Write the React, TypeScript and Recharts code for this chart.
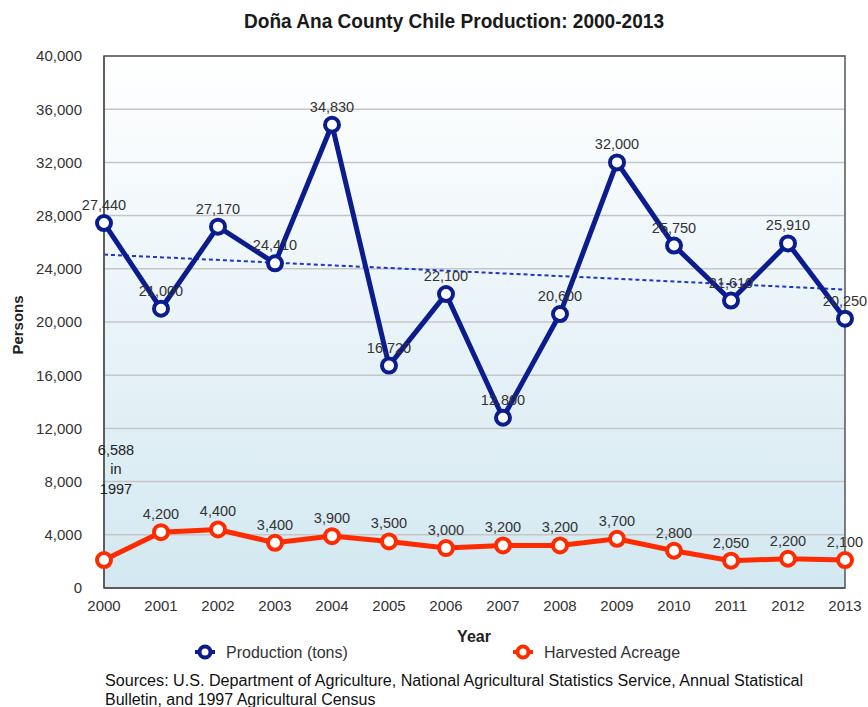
import React from "react";
import {
  LineChart,
  Line,
  XAxis,
  YAxis,
  CartesianGrid,
  LabelList,
  ReferenceArea,
} from "recharts";

const years = [2000, 2001, 2002, 2003, 2004, 2005, 2006, 2007, 2008, 2009, 2010, 2011, 2012, 2013];
const production = [27440, 21000, 27170, 24410, 34830, 16720, 22100, 12800, 20600, 32000, 25750, 21610, 25910, 20250];
const harvested = [2100, 4200, 4400, 3400, 3900, 3500, 3000, 3200, 3200, 3700, 2800, 2050, 2200, 2100];
// dotted trend line, read at its two ends
const trendEnds = [25070, 22440];
const yTicks = [0, 4000, 8000, 12000, 16000, 20000, 24000, 28000, 32000, 36000, 40000];

const BLUE = "#0b1c8f";
const RED = "#ff2b00";
const FONT = "'Liberation Sans', Arial, Helvetica, sans-serif";

const data = years.map((year, i) => ({
  year,
  production: production[i],
  harvested: harvested[i],
  // 2000 acreage has no label in the original (the 1997 note is shown instead)
  harvestedLabel: i === 0 ? null : harvested[i],
  trend: i === 0 ? trendEnds[0] : i === years.length - 1 ? trendEnds[1] : null,
}));

const fmt = (v: any) => Number(v).toLocaleString("en-US");

const LegendMark = ({ x, y, color }: { x: number; y: number; color: string }) => (
  <g>
    <line x1={x - 10} y1={y} x2={x + 10} y2={y} stroke={color} strokeWidth={4} />
    <circle cx={x} cy={y} r={5.5} fill="#fff" stroke={color} strokeWidth={4} />
  </g>
);

export default function App() {
  return (
    <div
      style={{
        position: "absolute",
        left: 0,
        top: 0,
        width: 868,
        height: 707,
        background: "#fff",
        fontFamily: FONT,
      }}
    >
      <LineChart
        width={868}
        height={707}
        data={data}
        margin={{ top: 56, right: 23, bottom: 0, left: 0 }}
      >
        <defs>
          <linearGradient id="plotBg" x1="0" y1="0" x2="0" y2="1">
            <stop offset="0%" stopColor="#ffffff" />
            <stop offset="100%" stopColor="#d3e8f1" />
          </linearGradient>
        </defs>
        <CartesianGrid
          vertical={false}
          stroke="#c6c6c6"
          strokeWidth={1.5}
          fill="url(#plotBg)"
          fillOpacity={1}
        />
        <XAxis
          dataKey="year"
          type="number"
          domain={[2000, 2013]}
          ticks={years}
          height={119}
          tickLine={false}
          tickSize={0}
          tickMargin={12}
          axisLine={{ stroke: "#555", strokeWidth: 1.5 }}
          tick={{ fill: "#333", fontSize: 15 }}
        />
        <YAxis
          type="number"
          domain={[0, 40000]}
          ticks={yTicks}
          width={104}
          tickLine={false}
          tickSize={0}
          tickMargin={22}
          axisLine={{ stroke: "#555", strokeWidth: 1.5 }}
          tick={{ fill: "#333", fontSize: 15 }}
          tickFormatter={fmt}
        />
        <ReferenceArea
          x1={2000}
          x2={2013}
          y1={0}
          y2={40000}
          fill="none"
          stroke="#555"
          strokeWidth={1.5}
        />
        <Line
          dataKey="trend"
          connectNulls
          stroke="#1e36c8"
          strokeWidth={2}
          strokeDasharray="4 3"
          dot={false}
          activeDot={false}
          isAnimationActive={false}
        />
        <Line
          dataKey="production"
          stroke={BLUE}
          strokeWidth={5}
          dot={{ r: 7, fill: "#fff", stroke: BLUE, strokeWidth: 4 }}
          activeDot={false}
          isAnimationActive={false}
        >
          <LabelList
            dataKey="production"
            position="top"
            offset={13}
            formatter={fmt}
            style={{ fill: "#333", fontSize: 14.5 }}
          />
        </Line>
        <Line
          dataKey="harvested"
          stroke={RED}
          strokeWidth={5}
          dot={{ r: 7, fill: "#fff", stroke: RED, strokeWidth: 4 }}
          activeDot={false}
          isAnimationActive={false}
        >
          <LabelList
            dataKey="harvestedLabel"
            position="top"
            offset={13}
            formatter={fmt}
            style={{ fill: "#333", fontSize: 14.5 }}
          />
        </Line>
      </LineChart>

      <svg
        width={868}
        height={707}
        style={{ position: "absolute", left: 0, top: 0, pointerEvents: "none" }}
        fontFamily={FONT}
      >
        <text x={454} y={28} textAnchor="middle" fontSize={21} fontWeight="bold" fill="#1a1a1a" textLength={420} lengthAdjust="spacingAndGlyphs">
          Doña Ana County Chile Production: 2000-2013
        </text>
        <text
          x={0}
          y={0}
          transform="translate(23,325) rotate(-90)"
          textAnchor="middle"
          fontSize={15}
          fontWeight="bold"
          fill="#222"
        >
          Persons
        </text>
        <text x={116} y={455} textAnchor="middle" fontSize={14.5} fill="#222">6,588</text>
        <text x={116} y={474} textAnchor="middle" fontSize={14.5} fill="#222">in</text>
        <text x={116} y={494} textAnchor="middle" fontSize={14.5} fill="#222">1997</text>
        <text x={474} y={642} textAnchor="middle" fontSize={16} fontWeight="bold" fill="#222">Year</text>
        <LegendMark x={205} y={652} color={BLUE} />
        <text x={226} y={658} fontSize={16} fill="#333">Production (tons)</text>
        <LegendMark x={523} y={652} color={RED} />
        <text x={544} y={658} fontSize={16} fill="#333">Harvested Acreage</text>
        <text x={105} y={686} fontSize={16} fill="#111" textLength={698} lengthAdjust="spacingAndGlyphs">
          Sources: U.S. Department of Agriculture, National Agricultural Statistics Service, Annual Statistical
        </text>
        <text x={105} y={705} fontSize={16} fill="#111">
          Bulletin, and 1997 Agricultural Census
        </text>
      </svg>
    </div>
  );
}
